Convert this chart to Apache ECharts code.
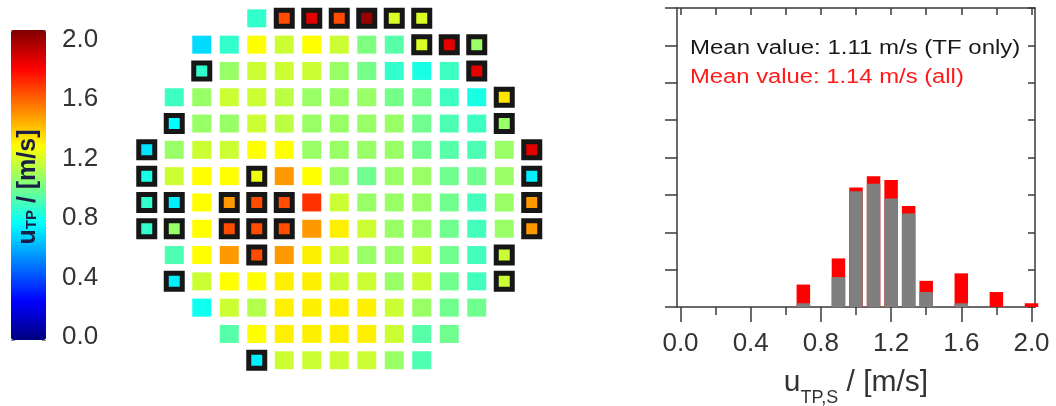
<!DOCTYPE html>
<html>
<head>
<meta charset="utf-8">
<script src="https://cdn.jsdelivr.net/npm/echarts@6/dist/echarts.min.js"></script>
<style>
  html, body { margin: 0; padding: 0; background: #ffffff; }
  #chart { width: 1056px; height: 406px; }
</style>
</head>
<body>
<div id="chart"></div>
<script>
// Local velocity u_TP per measuring position (rows top to bottom, 15 columns; null = no position)
const row0  = [null, null, null, null, 0.85, 1.6, 1.8, 1.6, 1.95, 1.18, 1.18, null, null, null, null];
const row1  = [null, null, 0.68, 0.85, 1.25, 1.15, 1.25, 1.15, 1.0, 0.92, 1.18, 1.8, 1.05, null, null];
const row2  = [null, null, 0.85, 1.05, 1.15, 1.15, 1.15, 1.05, 0.98, 0.85, 0.8, 0.87, 1.8, null, null];
const row3  = [null, 0.87, 1.05, 1.15, 1.15, 1.12, 1.05, 1.05, 1.05, 0.98, 0.97, 0.87, 0.8, 1.3, null];
const row4  = [null, 0.75, 1.05, 1.05, 1.15, 1.12, 1.05, 1.05, 1.05, 1.05, 0.97, 0.9, 0.87, 1.05, null];
const row5  = [0.7, 1.05, 1.15, 1.15, 1.25, 1.25, 1.05, 1.05, 1.05, 1.05, 0.97, 0.92, 0.9, 1.05, 1.8];
const row6  = [0.8, 1.15, 1.25, 1.25, 1.22, 1.45, 1.25, 1.05, 0.97, 1.05, 1.05, 0.97, 0.97, 1.05, 0.72];
const row7  = [0.85, 0.72, 1.25, 1.45, 1.6, 1.6, 1.65, 1.15, 1.05, 1.05, 1.05, 0.97, 0.88, 1.05, 1.45];
const row8  = [0.85, 1.05, 1.25, 1.6, 1.6, 1.6, 1.45, 1.28, 1.15, 1.05, 1.05, 0.97, 0.88, 1.05, 1.45];
const row9  = [null, 0.9, 1.25, 1.45, 1.6, 1.45, 1.28, 1.15, 1.05, 1.05, 1.15, 0.97, 0.88, 1.15, null];
const row10 = [null, 0.72, 1.15, 1.25, 1.25, 1.28, 1.28, 1.15, 1.15, 1.05, 1.15, 0.97, 0.88, 1.15, null];
const row11 = [null, null, 0.78, 1.15, 1.1, 1.28, 1.28, 1.28, 1.28, 1.15, 1.05, 0.97, 0.97, null, null];
const row12 = [null, null, null, 0.92, 1.25, 1.28, 1.28, 1.28, 1.28, 1.15, 0.92, 0.97, null, null, null];
const row13 = [null, null, null, null, 0.72, 1.15, 1.15, 1.15, 1.15, 1.05, 0.9, null, null, null, null];
const velocityRows = [row0, row1, row2, row3, row4, row5, row6, row7, row8, row9, row10, row11, row12, row13];

// Positions outside the TF region, drawn with a black frame: [column, row]
const framedCells = [
  [5, 0], [6, 0], [7, 0], [8, 0], [9, 0], [10, 0],
  [10, 1], [11, 1], [12, 1],
  [2, 2], [12, 2],
  [13, 3],
  [1, 4], [13, 4],
  [0, 5], [14, 5],
  [0, 6], [4, 6], [14, 6],
  [0, 7], [1, 7], [3, 7], [4, 7], [5, 7], [14, 7],
  [0, 8], [1, 8], [3, 8], [4, 8], [5, 8], [14, 8],
  [4, 9], [13, 9],
  [1, 10], [13, 10],
  [4, 13]
];

// Histogram of u_TP,S: bin centres and counts (TF only, and the remaining positions)
const binCenters  = [0.7, 0.9, 1.0, 1.1, 1.2, 1.3, 1.4, 1.6, 1.8, 2.0];
const countsTF    = [1, 8, 31, 33, 29, 25, 4, 1, 0, 0];
const countsOther = [5, 5, 1, 2, 5, 2, 3, 8, 4, 1];

// Axis tick values
const colorbarLabels = [0, 0.4, 0.8, 1.2, 1.6, 2.0];
const histMajorTicks = [0, 0.4, 0.8, 1.2, 1.6, 2.0];
const histMinorTicks = [0.2, 0.6, 1.0, 1.4, 1.8];
const histTopTicks   = [0, 0.2, 0.4, 0.6, 0.8, 1.0, 1.2, 1.4, 1.6, 1.8, 2.0];

// Jet colour scale
const jetColors = ['#00007f', '#0000ff', '#007fff', '#00ffff', '#7fff7f', '#ffff00', '#ff7f00', '#ff0000', '#7f0000'];

const FONT = "'Liberation Sans', Arial, sans-serif";
const AXIS_COLOR = '#3a3a3a';

const isFramed = (c, r) => framedCells.some(p => p[0] === c && p[1] === r);
const plainPoints = [];
const framedPoints = [];
velocityRows.forEach((row, r) => {
  row.forEach((v, c) => {
    if (v === null) return;
    (isFramed(c, r) ? framedPoints : plainPoints).push([c, r, v]);
  });
});

// Red bar = all positions in the bin, grey bar (drawn on top) = TF positions only
const allBars = binCenters.map((x, i) => [x, countsTF[i] + countsOther[i]]);
const tfBars = binCenters.map((x, i) => [x, countsTF[i]]);

const hiddenAxis = { show: false };
const line = { show: true, onZero: false, lineStyle: { color: AXIS_COLOR, width: 1.5 } };
const tickStyle = { color: AXIS_COLOR, width: 1.5 };
const gridBase = { outerBoundsMode: 'none', containLabel: false };

const chart = echarts.init(document.getElementById('chart'), null, { renderer: 'canvas' });

chart.setOption({
  animation: false,
  backgroundColor: '#ffffff',
  textStyle: { fontFamily: FONT },
  visualMap: {
    type: 'continuous',
    min: 0,
    max: 2,
    dimension: 2,
    seriesIndex: [0, 1],
    calculable: false,
    orient: 'vertical',
    left: 11,
    top: 30,
    padding: 0,
    itemWidth: 35,
    itemHeight: 310,
    text: null,
    hoverLink: false,
    inRange: { color: jetColors }
  },
  grid: [
    Object.assign({ left: 11, top: 39.5, width: 35, height: 297.5 }, gridBase),     // colour bar labels
    Object.assign({ left: 11, top: 30, width: 35, height: 310, z: 10 }, gridBase),  // colour bar ticks
    Object.assign({ left: 133, top: 5.2, width: 412.5, height: 368.2 }, gridBase),  // tray map
    Object.assign({ left: 677, top: 8, width: 358, height: 299 }, gridBase),        // histogram frame
    Object.assign({ left: 677, top: 8, width: 358, height: 299 }, gridBase)         // histogram minor ticks
  ],
  xAxis: [
    Object.assign({ gridIndex: 0, type: 'value', min: 0, max: 1 }, hiddenAxis),
    Object.assign({ gridIndex: 1, type: 'value', min: 0, max: 1 }, hiddenAxis),
    Object.assign({ gridIndex: 2, type: 'value', min: -0.5, max: 14.5 }, hiddenAxis),
    {
      gridIndex: 3, type: 'value', position: 'bottom', min: -0.02, max: 2.02,
      axisLine: line,
      axisTick: { show: true, customValues: histMajorTicks, length: 15, lineStyle: tickStyle },
      axisLabel: {
        show: true, customValues: histMajorTicks, margin: 24, fontSize: 26, color: '#333', fontFamily: FONT,
        formatter: v => v.toFixed(1)
      },
      splitLine: { show: false },
      name: 'u{sub|TP,S} / [m/s]',
      nameLocation: 'middle',
      nameGap: 52,
      nameTextStyle: {
        fontSize: 30, color: '#333', fontFamily: FONT,
        rich: { sub: { fontSize: 18, color: '#333', fontFamily: FONT, padding: [30, 0, 0, 0] } }
      }
    },
    {
      gridIndex: 3, type: 'value', position: 'top', min: -0.02, max: 2.02,
      axisLine: line,
      axisTick: { show: true, inside: true, customValues: histTopTicks, length: 7, lineStyle: tickStyle },
      axisLabel: { show: false },
      splitLine: { show: false }
    },
    {
      gridIndex: 4, type: 'value', position: 'bottom', min: -0.02, max: 2.02,
      axisLine: { show: false, onZero: false },
      axisTick: { show: true, customValues: histMinorTicks, length: 8, lineStyle: tickStyle },
      axisLabel: { show: false },
      splitLine: { show: false }
    }
  ],
  yAxis: [
    {
      gridIndex: 0, type: 'value', position: 'right', min: 0, max: 2, interval: 0.4,
      axisLine: { show: false }, axisTick: { show: false }, splitLine: { show: false },
      axisLabel: { show: true, customValues: colorbarLabels, margin: 16, fontSize: 26, color: '#333', fontFamily: FONT, formatter: v => v.toFixed(1) }
    },
    {
      gridIndex: 1, type: 'value', position: 'left', min: 0, max: 2, interval: 0.2,
      axisLine: { show: false, onZero: false }, splitLine: { show: false }, axisLabel: { show: false },
      axisTick: { show: true, inside: true, length: 4, lineStyle: { color: 'rgba(40,40,40,0.55)', width: 1 } }
    },
    {
      gridIndex: 1, type: 'value', position: 'right', min: 0, max: 2, interval: 0.2,
      axisLine: { show: false, onZero: false }, splitLine: { show: false }, axisLabel: { show: false },
      axisTick: { show: true, inside: true, length: 4, lineStyle: { color: 'rgba(40,40,40,0.55)', width: 1 } }
    },
    Object.assign({ gridIndex: 2, type: 'value', min: -0.5, max: 13.5, inverse: true }, hiddenAxis),
    {
      gridIndex: 3, type: 'value', position: 'left', min: 0, max: 80, interval: 10,
      axisLine: line,
      axisTick: { show: true, length: 12, lineStyle: tickStyle },
      axisLabel: { show: false },
      splitLine: { show: false }
    },
    {
      gridIndex: 3, type: 'value', position: 'right', min: 0, max: 80, interval: 10,
      axisLine: line,
      axisTick: { show: true, inside: true, length: 7, lineStyle: tickStyle },
      axisLabel: { show: false },
      splitLine: { show: false }
    },
    Object.assign({ gridIndex: 4, type: 'value', min: 0, max: 80 }, hiddenAxis)
  ],
  graphic: [
    {
      type: 'text', x: 28, y: 187, rotation: Math.PI / 2, z: 100,
      style: {
        text: '{m|u}{s|TP}{m| / [m/s]}',
        align: 'center', verticalAlign: 'middle',
        rich: {
          m: { fontSize: 25, fontWeight: 'bold', fill: '#1b1f45', fontFamily: FONT },
          s: { fontSize: 15, fontWeight: 'bold', fill: '#1b1f45', fontFamily: FONT, padding: [8, 0, 0, 0] }
        }
      }
    },
    {
      type: 'text', x: 690, y: 48, z: 100, scaleX: 1.2,
      style: { text: 'Mean value: 1.11 m/s (TF only)', fill: '#1a1a1a', font: '20px ' + FONT, verticalAlign: 'middle' }
    },
    {
      type: 'text', x: 690, y: 77, z: 100, scaleX: 1.19,
      style: { text: 'Mean value: 1.14 m/s (all)', fill: '#ff1a1a', font: '20px ' + FONT, verticalAlign: 'middle' }
    }
  ],
  series: [
    {
      name: 'TF positions',
      type: 'scatter', xAxisIndex: 2, yAxisIndex: 3,
      symbol: 'rect', symbolSize: [19, 18],
      itemStyle: { opacity: 1 },
      data: plainPoints,
      silent: true
    },
    {
      name: 'Other positions',
      type: 'scatter', xAxisIndex: 2, yAxisIndex: 3,
      symbol: 'rect', symbolSize: [16, 16],
      itemStyle: { opacity: 1, borderColor: '#161616', borderWidth: 5 },
      data: framedPoints,
      silent: true
    },
    {
      name: 'All',
      type: 'bar', xAxisIndex: 3, yAxisIndex: 4,
      barWidth: 13.5, barGap: '-100%',
      itemStyle: { color: '#ff0000' },
      data: allBars,
      silent: true
    },
    {
      name: 'TF only',
      type: 'bar', xAxisIndex: 3, yAxisIndex: 4,
      barWidth: 13.5, barGap: '-100%',
      itemStyle: { color: '#7f7f7f' },
      data: tfBars,
      silent: true
    }
  ]
});
</script>
</body>
</html>
